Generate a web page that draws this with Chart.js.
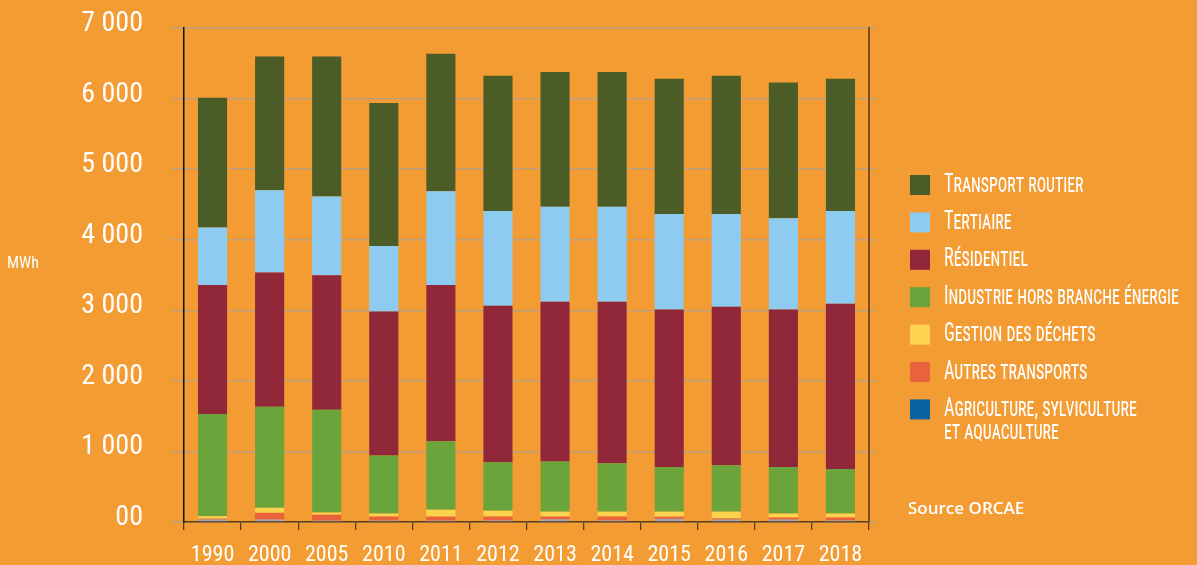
<!DOCTYPE html>
<html lang="fr">
<head>
<meta charset="utf-8">
<title>Consommation d'énergie par secteur (MWh)</title>
<script src="https://cdn.jsdelivr.net/npm/chart.js@4.4.1/dist/chart.umd.min.js"></script>
<style>
  html, body { margin:0; padding:0; background:#f49c34; }
  #wrap { width:1197px; height:565px; }
</style>
</head>
<body>
<div id="wrap"><canvas id="chart" width="1197" height="565"></canvas></div>
<script>
// données (MWh)
const annees = ['1990','2000','2005','2010','2011','2012','2013','2014','2015','2016','2017','2018'];

const agriculture      = [  35,   35,   20,   20,   20,   22,   38,   22,   45,   35,   35,   22];
const autresTransports = [  12,   95,   83,   57,   56,   55,   38,   55,   30,   15,   28,   42];
const gestionDechets   = [  35,   71,   30,   42,   98,   83,   71,   70,   72,   97,   56,   55];
const industrie        = [1448, 1433, 1456,  822,  970,  685,  712,  685,  631,  657,  659,  631];
const residentiel      = [1827, 1903, 1907, 2041, 2213, 2220, 2262, 2289, 2232, 2247, 2232, 2343];
const tertiaire        = [ 815, 1164, 1117,  930, 1330, 1342, 1345, 1345, 1353, 1312, 1294, 1314];
const transportRoutier = [1838, 1894, 1982, 2026, 1949, 1916, 1911, 1911, 1919, 1960, 1924, 1875];

const yTicks = [0, 1000, 2000, 3000, 4000, 5000, 6000, 7000];

// couleurs et polices
const ORANGE = '#f49c34';
const FONT_NARROW = "'Noto Sans ExtraCondensed', 'Roboto Condensed', 'DejaVu Sans Condensed', sans-serif";
const STRETCH = 'extra-condensed';

const series = [
  { label: 'Agriculture, sylviculture et aquaculture', data: agriculture,      color: '#a3a2b2', legend: '#0b62a0' },
  { label: 'Autres transports',                        data: autresTransports, color: '#e8633b', legend: '#e8633b' },
  { label: 'Gestion des déchets',                      data: gestionDechets,   color: '#fdd24f', legend: '#fdd24f' },
  { label: 'Industrie hors branche énergie',           data: industrie,        color: '#6aa43b', legend: '#6aa43b' },
  { label: 'Résidentiel',                              data: residentiel,      color: '#90283a', legend: '#90283a' },
  { label: 'Tertiaire',                                data: tertiaire,        color: '#8dccf0', legend: '#8dccf0' },
  { label: 'Transport routier',                        data: transportRoutier, color: '#4b5c26', legend: '#4b5c26' }
];

const fmt = v => v === 0 ? '00' : String(v).replace(/\B(?=(\d{3})+(?!\d))/g, ' ');

/* -------------------------------------------
   PLUGINS : fond, légende, textes libres
-------------------------------------------- */
const fondPlugin = {
  id: 'fond',
  beforeDraw(chart) {
    const ctx = chart.ctx;
    ctx.save();
    ctx.fillStyle = ORANGE;
    ctx.fillRect(0, 0, chart.width, chart.height);
    ctx.restore();
  }
};

// petites capitales serrées, comme l'original
function texteLegende(ctx, txt, x, y) {
  ctx.save();
  ctx.translate(x, y);
  ctx.scale(0.70, 1);
  ctx.fillText(txt, 0, 0);
  ctx.restore();
}

const legendePlugin = {
  id: 'legende',
  afterDraw(chart) {
    const ctx = chart.ctx;
    ctx.save();
    const items = series.slice().reverse();
    items.forEach((s, i) => {
      const cy = 185 + i * 37.4;
      ctx.fillStyle = s.legend;
      ctx.fillRect(910, cy - 10, 20, 20);

      ctx.fillStyle = '#ffffff';
      ctx.font = 'small-caps ' + STRETCH + ' 26px ' + FONT_NARROW;
      ctx.fontVariantCaps = 'small-caps';
      ctx.textBaseline = 'middle';
      ctx.textAlign = 'left';
      // le dernier libellé tient sur deux lignes
      if (s.label.startsWith('Agriculture')) {
        texteLegende(ctx, 'Agriculture, sylviculture', 944, cy);
        texteLegende(ctx, 'et aquaculture', 944, cy + 23);
      } else {
        texteLegende(ctx, s.label, 944, cy);
      }
    });

    // unité
    ctx.fontVariantCaps = 'normal';
    ctx.font = STRETCH + ' 16px ' + FONT_NARROW;
    ctx.fillText('MWh', 7, 264);

    // source
    ctx.font = "600 17px 'Open Sans', 'Noto Sans', sans-serif";
    ctx.fillText('Source ORCAE', 908, 509);
    ctx.restore();
  }
};

const noPad = s => { s.paddingTop = 0; s.paddingBottom = 0; s.paddingLeft = 0; s.paddingRight = 0; };

/* -------------------------------------------
   GRAPHIQUE
-------------------------------------------- */
const ctx = document.getElementById('chart').getContext('2d');
new Chart(ctx, {
  type: 'bar',
  data: {
    labels: annees,
    datasets: series.map(s => ({
      label: s.label,
      data: s.data,
      backgroundColor: s.color,
      borderWidth: 0,
      barPercentage: 0.51,
      categoryPercentage: 1
    }))
  },
  options: {
    responsive: false,
    animation: false,
    devicePixelRatio: 1,
    layout: { padding: { top: 28, left: 0, right: 320, bottom: 0 } },
    plugins: { legend: { display: false }, tooltip: { enabled: false } },
    scales: {
      x: {
        stacked: true,
        offset: true,
        grid: { offset: true, drawOnChartArea: false, drawTicks: true, tickLength: 8, color: '#5a3c16', lineWidth: 1.3 },
        border: { color: '#5a3c16', width: 1.5 },
        ticks: { color: '#ffffff', font: { family: FONT_NARROW, weight: STRETCH, size: 22 }, padding: 12, maxRotation: 0 },
        afterFit: s => { s.height = 43; noPad(s); }
      },
      y: {
        stacked: true,
        min: 0, max: 7000,
        afterBuildTicks: s => { s.ticks = yTicks.map(v => ({ value: v })); },
        grid: { color: '#bd9f7c', lineWidth: 1.5, tickLength: 12 },
        border: { color: '#111111', width: 1.5 },
        ticks: { color: '#ffffff', font: { family: FONT_NARROW, weight: STRETCH, size: 28 }, padding: 29, labelOffset: -4, callback: fmt },
        afterFit: s => { s.width = 184; noPad(s); }
      },
      y2: {
        position: 'right',
        min: 0, max: 7000,
        afterBuildTicks: s => { s.ticks = yTicks.map(v => ({ value: v })); },
        grid: { drawOnChartArea: false, color: '#bd9f7c', lineWidth: 1.5, tickLength: 7 },
        border: { color: '#7d4e1c', width: 2 },
        ticks: { display: false },
        afterFit: s => { s.width = 8; noPad(s); }
      }
    }
  },
  plugins: [fondPlugin, legendePlugin]
});
</script>
</body>
</html>
